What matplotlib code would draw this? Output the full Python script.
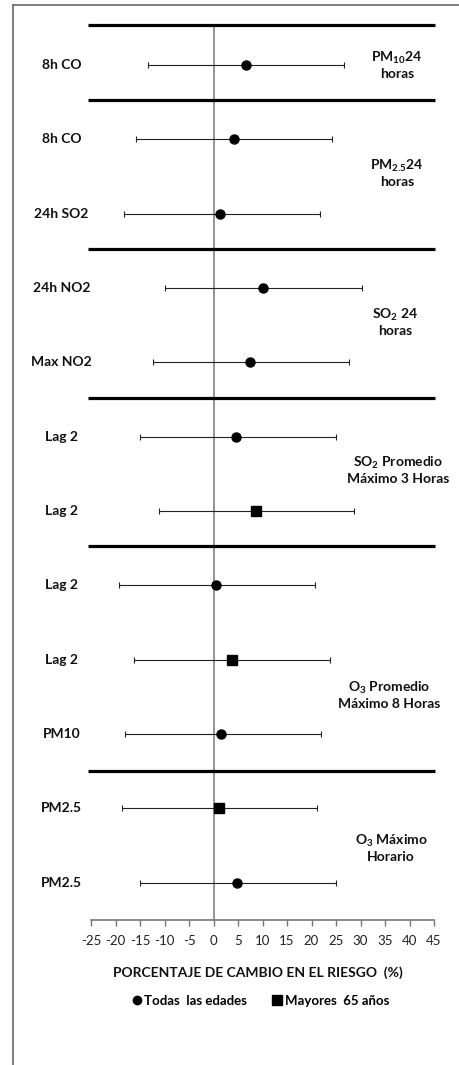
import matplotlib
matplotlib.use("Agg")
import matplotlib.pyplot as plt
from matplotlib.lines import Line2D

plt.rcParams['font.family'] = ['Lato', 'DejaVu Sans']
plt.rcParams['mathtext.default'] = 'regular'

# estimaciones (% de cambio en el riesgo) e intervalos de confianza
row_labels = ['8h CO', '8h CO', '24h SO2', '24h NO2', 'Max NO2', 'Lag 2',
              'Lag 2', 'Lag 2', 'Lag 2', 'PM10', 'PM2.5', 'PM2.5']
estimate = [6.6, 4.2, 1.3, 10.0, 7.5, 4.5, 8.6, 0.5, 3.7, 1.6, 1.1, 4.8]
ci_low = [-13.3, -15.8, -18.2, -9.9, -12.4, -15.1, -11.2, -19.2, -16.3, -18.0, -18.7, -15.1]
ci_high = [26.7, 24.2, 21.8, 30.3, 27.6, 24.9, 28.7, 20.8, 23.7, 22.0, 21.2, 24.9]
group = ['todas', 'todas', 'todas', 'todas', 'todas', 'todas',
         'mayores', 'todas', 'mayores', 'todas', 'mayores', 'todas']

group_titles = [r'PM$_{10}$24' + '\nhoras',
                r'PM$_{2.5}$24' + '\nhoras',
                r'SO$_2$ 24' + '\nhoras',
                r'SO$_2$ Promedio' + '\nMáximo 3 Horas',
                r'O$_3$ Promedio' + '\nMáximo 8 Horas',
                r'O$_3$ Máximo' + '\nHorario']
title_rows = [0.0, 1.45, 3.45, 5.45, 8.47, 10.53]
title_x = [37.4, 37.4, 37.0, 37.6, 35.8, 36.2]
separators = [-0.54, 0.47, 2.47, 4.48, 6.47, 9.49]

x_ticks = list(range(-25, 50, 5))

W, H = 459, 1065
fig = plt.figure(figsize=(W / 100, H / 100), dpi=100)
ax = fig.add_axes([91 / W, 1 - 920 / H, (434 - 91) / W, (920 - 25) / H])

txt = '#111111'
for i in range(len(estimate)):
    mk = 'o' if group[i] == 'todas' else 's'
    ms = 6.5 if mk == 'o' else 7
    ax.errorbar(estimate[i], i,
                xerr=[[estimate[i] - ci_low[i]], [ci_high[i] - estimate[i]]],
                fmt=mk, color='black', ms=ms, ecolor='#222222',
                elinewidth=0.8, capsize=2.2, capthick=0.8, zorder=3)
    ax.text(-31, i, row_labels[i], ha='center', va='center',
            fontsize=10, fontweight='bold', color=txt, clip_on=False)

for s in separators:
    ax.plot([-25.6, 45.3], [s, s], color='black', lw=2.3,
            solid_capstyle='butt', clip_on=False, zorder=2)

for t, r, xx in zip(group_titles, title_rows, title_x):
    ax.text(xx, r, t, ha='center', va='center', fontsize=10,
            fontweight='bold', color=txt, linespacing=1.2, clip_on=False)

ax.plot([0, 0], [-0.54, 11.5], color='#777777', lw=1.1, zorder=1, clip_on=False)

ax.set_xlim(-25, 45)
ax.set_ylim(11.5, -0.54)
ax.set_xticks(x_ticks)
ax.set_xticklabels([str(v) for v in x_ticks], fontsize=9.5, color='#222222')
ax.set_yticks([])
for sp in ['left', 'right', 'top']:
    ax.spines[sp].set_visible(False)
ax.spines['bottom'].set_color('#777777')
ax.spines['bottom'].set_linewidth(1.2)
ax.tick_params(axis='x', direction='out', length=4, width=1, color='#777777', pad=7)

fig.text(258 / W, 1 - 973 / H, 'PORCENTAJE DE CAMBIO EN EL RIESGO  (%)',
         ha='center', va='center', fontsize=10, fontweight='bold', color=txt)

handles = [Line2D([], [], marker='o', ls='none', color='black', ms=6),
           Line2D([], [], marker='s', ls='none', color='black', ms=6.5)]
fig.legend(handles, ['Todas  las edades', 'Mayores  65 años'], ncol=2,
           loc='center', bbox_to_anchor=(260 / W, 1 - 1001 / H), frameon=False,
           prop={'weight': 'bold', 'size': 9.5}, handletextpad=0.15,
           columnspacing=1.8, handlelength=0.9)

# marco exterior
fig.add_artist(Line2D([13 / W, 13 / W], [0, 1 - 5 / H], color='#666666', lw=1.2))
fig.add_artist(Line2D([13 / W, 1], [1 - 5 / H, 1 - 5 / H], color='#666666', lw=1.2))

fig.savefig('out.png', dpi=100)
